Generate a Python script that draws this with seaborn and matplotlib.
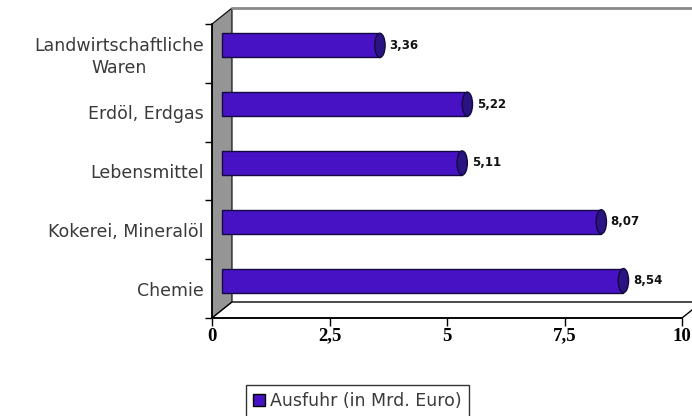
import numpy as np
import pandas as pd
import seaborn as sns
import matplotlib.pyplot as plt
import matplotlib.transforms as mtransforms
from matplotlib.patches import Polygon, Ellipse, Patch
from matplotlib.lines import Line2D

# chart data
categories = ["Landwirtschaftliche\nWaren", "Erdöl, Erdgas", "Lebensmittel",
              "Kokerei, Mineralöl", "Chemie"]
values = [3.36, 5.22, 5.11, 8.07, 8.54]
value_labels = ["3,36", "5,22", "5,11", "8,07", "8,54"]
x_ticks = [0, 2.5, 5, 7.5, 10]
x_tick_labels = ["0", "2,5", "5", "7,5", "10"]
series_name = "Ausfuhr (in Mrd. Euro)"

bar_color = "#4712c4"
cap_color = "#2a1482"
wall_color = "#959595"

sns.set_style("white")

df = pd.DataFrame({"Kategorie": categories, "Wert": values})

fig = plt.figure(figsize=(6.92, 4.16), dpi=100)
ax = fig.add_axes([212 / 692, 98 / 416, 470 / 692, 294 / 416])
ax.patch.set_visible(False)

# depth of the fake 3d box (pixels) and half depth for the bars
DX, DY = 20, 16
half = mtransforms.ScaledTranslation(0.10, 0.08, fig.dpi_scale_trans)


def to_fig(xa, ya, back=False):
    p = ax.transAxes.transform((xa, ya))
    if back:
        p = p + np.array([DX, DY])
    return fig.transFigure.inverted().transform(p)


sns.barplot(data=df, x="Wert", y="Kategorie", orient="h", color=bar_color,
            saturation=1, width=0.41, edgecolor="#140840", linewidth=1.0, ax=ax)
bars = list(ax.containers[0])

# side wall and floor
wall = Polygon([to_fig(0, 0), to_fig(0, 1), to_fig(0, 1, True), to_fig(0, 0, True)],
               closed=True, facecolor=wall_color, edgecolor="black", linewidth=0.8,
               transform=fig.transFigure, clip_on=False, zorder=0)
ax.add_patch(wall)
floor = Polygon([to_fig(0, 0), to_fig(1, 0), to_fig(1, 0, True), to_fig(0, 0, True)],
                closed=True, facecolor="white", edgecolor="black", linewidth=1.0,
                transform=fig.transFigure, clip_on=False, zorder=0)
ax.add_patch(floor)
top = to_fig(0, 1, True)
ax.add_line(Line2D([top[0], 1.0], [top[1], top[1]], color="#8a8a8a", linewidth=2,
                   transform=fig.transFigure, clip_on=False, zorder=0))

for patch, lab in zip(bars, value_labels):
    patch.set_transform(ax.transData + half)
    patch.set_clip_on(False)
    patch.set_zorder(3)
    w = patch.get_width()
    yc = patch.get_y() + patch.get_height() / 2
    cap = Ellipse((w, yc), width=0.22, height=patch.get_height(),
                  transform=ax.transData + half, facecolor=cap_color,
                  edgecolor="#140840", linewidth=1.0, clip_on=False, zorder=4)
    ax.add_patch(cap)
    ax.text(w + 0.2, yc, lab, transform=ax.transData + half, ha="left", va="center",
            fontsize=8.5, fontweight="bold", color="#111111")

ax.set_xlim(0, 10)
ax.set_ylim(len(categories) - 0.5, -0.5)
ax.set_xticks(x_ticks)
ax.set_xticklabels(x_tick_labels, family="Liberation Serif", fontweight="bold",
                   fontsize=13.5, color="black")
ax.set_yticks(range(len(categories)))
ax.set_yticklabels(categories, fontsize=12.5, color="#3a3a3a", linespacing=1.25,
                   multialignment="center")
ax.set_yticks(np.arange(-0.5, len(categories)), minor=True)
ax.tick_params(axis="y", which="major", length=0, pad=6)
ax.tick_params(axis="y", which="minor", length=5, width=1, color="black", left=True)
ax.tick_params(axis="x", length=6, width=1, color="black", bottom=True, pad=1)
ax.set_xlabel("")
ax.set_ylabel("")

for side in ["top", "right"]:
    ax.spines[side].set_visible(False)
for side in ["left", "bottom"]:
    ax.spines[side].set_color("black")
    ax.spines[side].set_linewidth(1.2)
    ax.spines[side].set_zorder(5)

handle = Patch(facecolor=bar_color, edgecolor="black", label=series_name)
leg = fig.legend(handles=[handle], loc="upper left", bbox_to_anchor=(246 / 692, 1 - 385 / 416),
                 frameon=True, fancybox=False, edgecolor="black", fontsize=12.5,
                 handlelength=0.7, handleheight=0.7, handletextpad=0.3, borderpad=0.4,
                 borderaxespad=0)
leg.get_frame().set_linewidth(1.0)
for t in leg.get_texts():
    t.set_color("#3a3a3a")

fig.savefig("out.png", dpi=100)
